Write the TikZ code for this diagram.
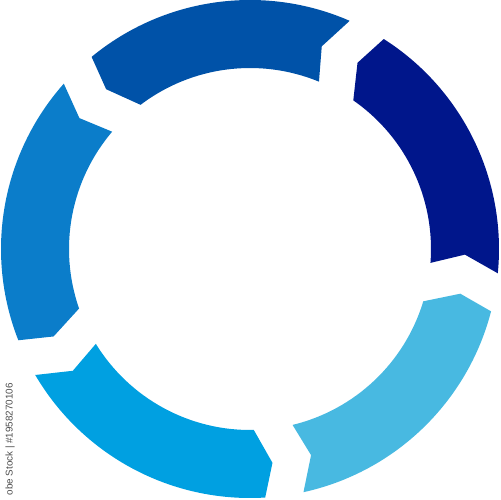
\documentclass[tikz,border=0pt]{standalone}
\usepackage{fontspec}
\setsansfont{Liberation Sans}
\definecolor{cnavy}{HTML}{00168B}
\definecolor{cblue}{HTML}{0052A8}
\definecolor{cmid}{HTML}{0B7DCA}
\definecolor{ccyan}{HTML}{00A0E1}
\definecolor{clight}{HTML}{48B9E1}
\newcommand{\ringseg}[2]{%
  \fill[#2,rotate=#1] (57.5:249) arc[start angle=57.5, end angle=-5.6, radius=249]
    -- (-1.5:215) -- (-4.4:181) arc[start angle=-4.4, end angle=55.2, radius=181]
    -- (60:215) -- cycle;}
\begin{document}
\begin{tikzpicture}[x=0.02cm,y=0.02cm]
\useasboundingbox (-250,-251) rectangle (250,249);
\coordinate (c) at (0,0);
\ringseg{0}{cnavy}
\ringseg{72}{cblue}
\ringseg{144}{cmid}
\ringseg{216}{ccyan}
\ringseg{288}{clight}
\node[rotate=90, anchor=east, inner sep=0pt, text=black!70,
  font=\sffamily\fontsize{5.6}{6.5}\selectfont] (wm) at (-240,-134) {obe Stock | \#1958270106};
\end{tikzpicture}
\end{document}
